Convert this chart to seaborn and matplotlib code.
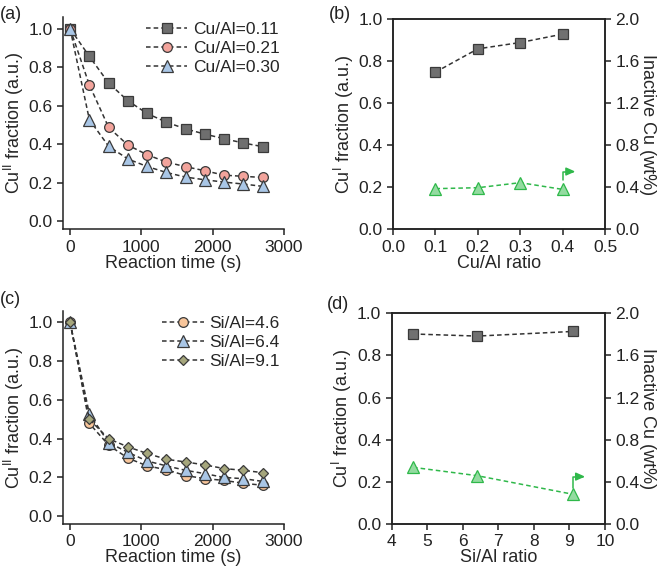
import pandas as pd
import seaborn as sns
import matplotlib.pyplot as plt

# ---- data ----
time_s = [0, 270, 540, 810, 1080, 1350, 1620, 1890, 2160, 2430, 2700]

cual_labels = ['Cu/Al=0.11', 'Cu/Al=0.21', 'Cu/Al=0.30']
cu2_cual_011 = [1.0, 0.856, 0.718, 0.626, 0.56, 0.515, 0.48, 0.453, 0.429, 0.407, 0.388]
cu2_cual_021 = [1.0, 0.708, 0.488, 0.396, 0.346, 0.308, 0.284, 0.263, 0.24, 0.234, 0.228]
cu2_cual_030 = [1.0, 0.528, 0.39, 0.324, 0.285, 0.254, 0.23, 0.216, 0.204, 0.194, 0.182]

sial_labels = ['Si/Al=4.6', 'Si/Al=6.4', 'Si/Al=9.1']
cu2_sial_46 = [1.0, 0.479, 0.367, 0.30, 0.26, 0.24, 0.21, 0.194, 0.185, 0.17, 0.16]
cu2_sial_64 = [1.0, 0.528, 0.38, 0.33, 0.285, 0.26, 0.237, 0.22, 0.20, 0.194, 0.18]
cu2_sial_91 = [1.0, 0.50, 0.40, 0.358, 0.324, 0.294, 0.28, 0.265, 0.246, 0.237, 0.225]

cual_ratio = [0.1, 0.2, 0.3, 0.4]
cu1_vs_cual = [0.748, 0.859, 0.889, 0.929]
inactive_vs_cual = [0.387, 0.396, 0.444, 0.38]

sial_ratio = [4.6, 6.4, 9.1]
cu1_vs_sial = [0.902, 0.892, 0.914]
inactive_vs_sial = [0.538, 0.459, 0.282]

LINE = '#333333'
EDGE = '#3a3a3a'
GREEN = '#2fb84a'
GREEN_FILL = '#93dba0'

sns.set_style('ticks')
plt.rcParams['font.family'] = ['Liberation Sans', 'DejaVu Sans']
plt.rcParams['mathtext.fontset'] = 'custom'
plt.rcParams['mathtext.rm'] = 'Liberation Sans'
plt.rcParams['axes.edgecolor'] = '#222222'
plt.rcParams['axes.linewidth'] = 1.1
plt.rcParams['xtick.color'] = '#222222'
plt.rcParams['ytick.color'] = '#222222'
plt.rcParams['xtick.direction'] = 'out'
plt.rcParams['ytick.direction'] = 'out'
plt.rcParams['xtick.major.size'] = 4
plt.rcParams['ytick.major.size'] = 4
plt.rcParams['font.size'] = 12


def kinetic_lines(ax, series, labels, markers, fills, sizes):
    for vals, lab, mk, fc, ms in zip(series, labels, markers, fills, sizes):
        df = pd.DataFrame({'time': time_s, 'frac': vals})
        sns.lineplot(data=df, x='time', y='frac', ax=ax, color=LINE,
                     linestyle=(0, (3, 2)), linewidth=1.1, marker=mk,
                     markersize=ms, markerfacecolor=fc, markeredgecolor=EDGE,
                     markeredgewidth=0.9, label=lab)
    ax.set_xlim(-100, 3000)
    ax.set_ylim(-0.04, 1.06)
    ax.set_xticks([0, 1000, 2000, 3000])
    ax.set_yticks([0.0, 0.2, 0.4, 0.6, 0.8, 1.0])
    ax.set_xlabel('Reaction time (s)', fontsize=13, labelpad=0)
    ax.set_ylabel(r'Cu$^{\mathregular{II}}$ fraction (a.u.)', fontsize=13, labelpad=2)
    ax.tick_params(labelsize=12.5, width=1.1)
    sns.despine(ax=ax)
    ax.legend(loc='upper right', bbox_to_anchor=(1.05, 1.05), frameon=False,
              fontsize=12.5, handlelength=2.4, labelspacing=0.22, handletextpad=0.3)


def ratio_plot(ax, x, cu1, inactive, xlabel, xlim, xticks, arrow_from, arrow_to):
    d1 = pd.DataFrame({'ratio': x, 'cu1': cu1})
    sns.lineplot(data=d1, x='ratio', y='cu1', ax=ax, color=LINE,
                 linestyle=(0, (3, 2)), linewidth=1.1, marker='s', markersize=6.5,
                 markerfacecolor='#707070', markeredgecolor=EDGE, markeredgewidth=0.9)
    ax.set_xlim(*xlim)
    ax.set_ylim(0, 1)
    ax.set_xticks(xticks)
    ax.set_yticks([0.0, 0.2, 0.4, 0.6, 0.8, 1.0])
    ax.set_xlabel(xlabel, fontsize=13, labelpad=0)
    ax.set_ylabel(r'Cu$^{\mathregular{I}}$ fraction (a.u.)', fontsize=13, labelpad=2)
    ax.tick_params(labelsize=12.5, width=1.1)

    ax2 = ax.twinx()
    d2 = pd.DataFrame({'ratio': x, 'inactive': inactive})
    sns.lineplot(data=d2, x='ratio', y='inactive', ax=ax2, color=GREEN,
                 linestyle=(0, (3, 2)), linewidth=1.1, marker='^', markersize=8.5,
                 markerfacecolor=GREEN_FILL, markeredgecolor=GREEN, markeredgewidth=0.9)
    ax2.set_ylim(0, 2)
    ax2.set_yticks([0.0, 0.4, 0.8, 1.2, 1.6, 2.0])
    ax2.set_ylabel('Inactive Cu (wt%)', fontsize=13, rotation=270, labelpad=12)
    ax2.tick_params(labelsize=12.5, width=1.1)
    for s in ax2.spines.values():
        s.set_linewidth(1.1)
    ax2.annotate('', xy=arrow_to, xytext=arrow_from,
                 arrowprops=dict(arrowstyle='-|>,head_length=0.45,head_width=0.2',
                                 color=GREEN, lw=1.1, shrinkA=0, shrinkB=0,
                                 connectionstyle='angle,angleA=90,angleB=0,rad=0'))


fig = plt.figure(figsize=(6.61, 5.70), dpi=100)
ax_a = fig.add_axes([0.0953, 0.598, 0.3343, 0.372])
ax_b = fig.add_axes([0.5946, 0.5977, 0.3207, 0.3686])
ax_c = fig.add_axes([0.0953, 0.0807, 0.3343, 0.374])
ax_d = fig.add_axes([0.5926, 0.0807, 0.3227, 0.3696])

kinetic_lines(ax_a, [cu2_cual_011, cu2_cual_021, cu2_cual_030], cual_labels,
              ['s', 'o', '^'], ['#6e6e6e', '#f3a49c', '#a9c6e6'], [6.5, 7, 8])
kinetic_lines(ax_c, [cu2_sial_46, cu2_sial_64, cu2_sial_91], sial_labels,
              ['o', '^', 'D'], ['#f8c59a', '#a9c6e6', '#a5a67c'], [7, 8, 5.5])

ratio_plot(ax_b, cual_ratio, cu1_vs_cual, inactive_vs_cual, 'Cu/Al ratio',
           (0, 0.5), [0.0, 0.1, 0.2, 0.3, 0.4, 0.5], (0.401, 0.47), (0.43, 0.55))
ratio_plot(ax_d, sial_ratio, cu1_vs_sial, inactive_vs_sial, 'Si/Al ratio',
           (4, 10), [4, 5, 6, 7, 8, 9, 10], (9.1, 0.34), (9.44, 0.45))

for txt, (px, py) in zip(['(a)', '(b)', '(c)', '(d)'],
                         [(0.0, 0.975), (0.497, 0.975), (0.0, 0.475), (0.495, 0.465)]):
    fig.text(px, py, txt, fontsize=13, ha='left', va='center', color='#222222')

fig.savefig('out.png', dpi=100)
